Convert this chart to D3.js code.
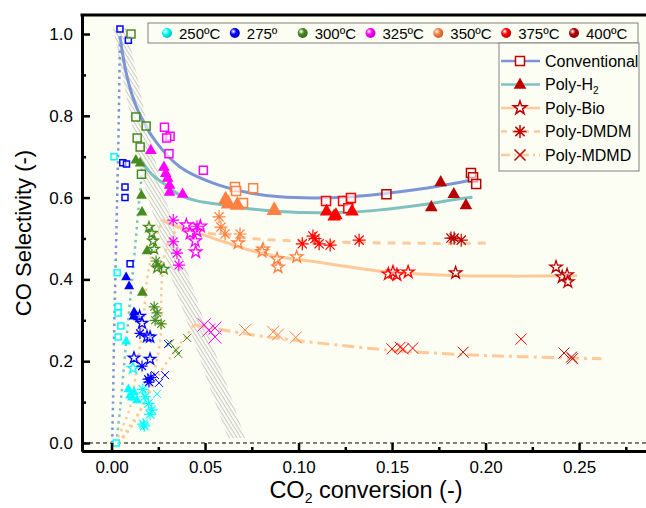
<!DOCTYPE html>
<html>
<head>
<meta charset="utf-8">
<script src="https://cdn.jsdelivr.net/npm/d3@7"></script>
<style>
  body { margin: 0; background: #fff; }
  text { font-family: "Liberation Sans", Arial, sans-serif; }
</style>
</head>
<body>
<div id="chart-area"></div>
<script>
// temperatures and legend labels
const temps = [250, 275, 300, 325, 350, 375, 400];
const tempLabels = ['250ºC', '275º', '300ºC', '325ºC', '350ºC', '375ºC', '400ºC'];
const seriesLabels = ['Conventional', 'Poly-H', 'Poly-Bio', 'Poly-DMDM', 'Poly-MDMD'];
const xTicks = [0, 0.05, 0.10, 0.15, 0.20, 0.25];
const xMinorTicks = [0.025, 0.075, 0.125, 0.175, 0.225, 0.275];
const yTicks = [0, 0.2, 0.4, 0.6, 0.8, 1.0];
const yMinorTicks = [0.1, 0.3, 0.5, 0.7, 0.9];

// [temperature, CO2 conversion, CO selectivity]
const conventional = [
  [250, 0.0025, 0.0], [250, 0.0013, 0.70], [250, 0.003, 0.416], [250, 0.0035, 0.333],
  [250, 0.0035, 0.318], [250, 0.005, 0.286], [250, 0.0035, 0.259],
  [275, 0.0045, 1.012], [275, 0.009, 0.985], [275, 0.006, 0.685], [275, 0.008, 0.682],
  [275, 0.0072, 0.626], [275, 0.0072, 0.60], [275, 0.0099, 0.438],
  [300, 0.0104, 1.0], [300, 0.013, 0.797], [300, 0.0185, 0.775], [300, 0.0137, 0.746],
  [300, 0.0153, 0.724], [300, 0.016, 0.657],
  [325, 0.0283, 0.772], [325, 0.0313, 0.75], [325, 0.0295, 0.746], [325, 0.0307, 0.707],
  [325, 0.0491, 0.667],
  [350, 0.066, 0.626], [350, 0.0666, 0.616], [350, 0.0757, 0.623], [350, 0.0703, 0.587],
  [375, 0.1147, 0.592], [375, 0.1238, 0.592], [375, 0.128, 0.599], [375, 0.1266, 0.574],
  [400, 0.147, 0.608], [400, 0.1922, 0.66], [400, 0.1933, 0.65], [400, 0.195, 0.633]
];
const polyH2 = [
  [250, 0.0078, 0.249], [250, 0.009, 0.132], [250, 0.0099, 0.117], [250, 0.011, 0.112],
  [250, 0.0136, 0.105], [250, 0.012, 0.125],
  [275, 0.0078, 0.406], [275, 0.0094, 0.384], [275, 0.012, 0.32], [275, 0.0126, 0.316],
  [275, 0.014, 0.308], [275, 0.0118, 0.31],
  [300, 0.013, 0.692], [300, 0.0153, 0.685], [300, 0.016, 0.606], [300, 0.0163, 0.565],
  [300, 0.019, 0.47], [300, 0.0165, 0.369],
  [325, 0.021, 0.716], [325, 0.028, 0.675], [325, 0.029, 0.66], [325, 0.03, 0.648],
  [325, 0.031, 0.631], [325, 0.031, 0.614], [325, 0.038, 0.609],
  [350, 0.061, 0.596], [350, 0.0625, 0.586], [350, 0.0673, 0.583], [350, 0.087, 0.57],
  [375, 0.115, 0.567], [375, 0.119, 0.555], [375, 0.12, 0.558], [375, 0.1286, 0.567],
  [400, 0.176, 0.638], [400, 0.183, 0.609], [400, 0.171, 0.577], [400, 0.1895, 0.582]
];
const polyBio = [
  [250, 0.0115, 0.183],
  [275, 0.015, 0.31], [275, 0.0163, 0.293], [275, 0.019, 0.26], [275, 0.0206, 0.259],
  [275, 0.012, 0.208], [275, 0.0206, 0.205],
  [300, 0.02, 0.528], [300, 0.0216, 0.513], [300, 0.0222, 0.494], [300, 0.0228, 0.474],
  [300, 0.028, 0.425], [300, 0.0243, 0.428],
  [325, 0.04, 0.533], [325, 0.042, 0.513], [325, 0.0457, 0.518], [325, 0.0447, 0.494],
  [325, 0.045, 0.467], [325, 0.0475, 0.53],
  [350, 0.0677, 0.489], [350, 0.081, 0.474], [350, 0.0805, 0.468], [350, 0.0885, 0.45],
  [350, 0.089, 0.43], [350, 0.099, 0.455],
  [375, 0.148, 0.413], [375, 0.1526, 0.411], [375, 0.1586, 0.418], [375, 0.1505, 0.418],
  [400, 0.184, 0.416], [400, 0.2377, 0.43], [400, 0.241, 0.406], [400, 0.2436, 0.411],
  [400, 0.244, 0.394]
];
const polyDMDM = [
  [250, 0.0167, 0.131], [250, 0.0179, 0.113], [250, 0.0197, 0.097], [250, 0.0206, 0.07],
  [250, 0.017, 0.046], [250, 0.0175, 0.042], [250, 0.0215, 0.081],
  [275, 0.0152, 0.268], [275, 0.0163, 0.188], [275, 0.0195, 0.156], [275, 0.02, 0.149],
  [275, 0.021, 0.16],
  [300, 0.0238, 0.445], [300, 0.0249, 0.435], [300, 0.0228, 0.333], [300, 0.0243, 0.318],
  [300, 0.0233, 0.30], [300, 0.0265, 0.291],
  [325, 0.033, 0.545], [325, 0.033, 0.492], [325, 0.035, 0.464], [325, 0.036, 0.435],
  [325, 0.0457, 0.53],
  [350, 0.0575, 0.553], [350, 0.0585, 0.528], [350, 0.0607, 0.511], [350, 0.0687, 0.511],
  [375, 0.102, 0.487], [375, 0.1077, 0.506], [375, 0.1088, 0.5], [375, 0.111, 0.487],
  [375, 0.1169, 0.484], [375, 0.1324, 0.496],
  [400, 0.1815, 0.501], [400, 0.187, 0.496], [400, 0.1832, 0.501]
];
const polyMDMD = [
  [250, 0.0243, 0.12],
  [275, 0.0302, 0.242], [275, 0.0233, 0.166], [275, 0.0286, 0.166], [275, 0.0254, 0.147],
  [300, 0.0313, 0.244], [300, 0.0345, 0.227], [300, 0.0356, 0.218], [300, 0.0404, 0.257],
  [325, 0.0495, 0.289], [325, 0.052, 0.276], [325, 0.0553, 0.281], [325, 0.0553, 0.259],
  [350, 0.0714, 0.276], [350, 0.0864, 0.272], [350, 0.089, 0.265], [350, 0.0985, 0.258],
  [375, 0.15, 0.23], [375, 0.1543, 0.234], [375, 0.156, 0.23], [375, 0.161, 0.232],
  [375, 0.219, 0.254],
  [400, 0.188, 0.222], [400, 0.242, 0.22], [400, 0.246, 0.21], [400, 0.2465, 0.206]
];

// trend lines, [conversion, selectivity]
const fitConventional = [[0.0045, 0.995], [0.0083, 0.895], [0.014, 0.814], [0.0243, 0.733],
  [0.0366, 0.675], [0.054, 0.636], [0.0722, 0.613], [0.09, 0.602], [0.108, 0.599],
  [0.125, 0.601], [0.144, 0.609], [0.165, 0.621], [0.186, 0.637], [0.193, 0.643]];
const lowConventional = [[0.0003, 0.0], [0.0008, 0.1], [0.0013, 0.25], [0.002, 0.4],
  [0.003, 0.6], [0.0037, 0.75], [0.0045, 0.995]];
const fitH2 = [[0.0163, 0.687], [0.022, 0.655], [0.0275, 0.636], [0.0366, 0.606],
  [0.0457, 0.592], [0.06, 0.582], [0.075, 0.572], [0.09, 0.566], [0.1115, 0.563],
  [0.13, 0.565], [0.1436, 0.57], [0.165, 0.582], [0.186, 0.597], [0.193, 0.601]];
const lowH2 = [[0.0025, 0.0], [0.0045, 0.08], [0.0065, 0.18], [0.0085, 0.28], [0.011, 0.40],
  [0.013, 0.5], [0.0145, 0.58], [0.016, 0.65], [0.0163, 0.687]];
const fitBio = [[0.027, 0.545], [0.036, 0.527], [0.047, 0.512], [0.06, 0.492], [0.075, 0.47],
  [0.09, 0.455], [0.108, 0.444], [0.125, 0.432], [0.144, 0.42], [0.165, 0.413],
  [0.186, 0.409], [0.215, 0.408], [0.249, 0.409]];
const lowBio = [[0.002, 0.0], [0.006, 0.04], [0.0099, 0.088], [0.014, 0.2], [0.017, 0.3],
  [0.019, 0.4], [0.022, 0.47], [0.027, 0.545]];
const fitDMDM = [[0.036, 0.53], [0.05, 0.515], [0.065, 0.505], [0.08, 0.498], [0.1, 0.494],
  [0.12, 0.491], [0.15, 0.489], [0.185, 0.488], [0.2024, 0.489]];
const lowDMDM = [[0.004, 0.0], [0.012, 0.05], [0.02, 0.13], [0.026, 0.25], [0.0268, 0.39],
  [0.0295, 0.48], [0.036, 0.53]];
const fitMDMD = [[0.044, 0.289], [0.055, 0.28], [0.068, 0.27], [0.079, 0.262], [0.1, 0.25],
  [0.12, 0.24], [0.146, 0.228], [0.188, 0.216], [0.22, 0.211], [0.262, 0.206]];
const lowMDMD = [[0.004, 0.0], [0.008, 0.03], [0.014, 0.07], [0.02, 0.12], [0.0268, 0.178],
  [0.034, 0.225], [0.0402, 0.264], [0.044, 0.289]];

// hatched band (edges)
const hatchLeft = [[0.0008, 1.015], [0.0099, 0.802], [0.0168, 0.643], [0.0275, 0.479],
  [0.0324, 0.399], [0.042, 0.276], [0.0511, 0.154], [0.0623, 0.012]];
const hatchRight = [[0.0083, 1.015], [0.0179, 0.802], [0.0259, 0.643], [0.0366, 0.479],
  [0.042, 0.399], [0.0511, 0.276], [0.0607, 0.154], [0.0714, 0.012]];

// ---- styles ----
const tempColors = ['#00ffff', '#0000ff', '#4a8a22', '#ff00ff', '#ff8040', '#ff0000', '#b80000'];
const color = d3.scaleOrdinal().domain(temps).range(tempColors);
const markerSize = {
  square: [3, 3, 4, 4, 4.5, 4.5, 4.5],
  triangle: [5.5, 5.5, 6, 6.5, 8.5, 7.5, 7],
  star: [6, 6, 5.5, 6.5, 6.5, 6.5, 6.5],
  asterisk: [6, 5.5, 5.5, 6, 6.5, 6.5, 6.5],
  cross: [4, 4, 4, 6.5, 6, 5.5, 5.5]
};
const markerPath = {
  square: r => `M${-r},${-r}h${2 * r}v${2 * r}h${-2 * r}Z`,
  triangle: r => `M0,${-r}L${r * 0.9},${r * 0.6}L${-r * 0.9},${r * 0.6}Z`,
  star: r => d3.symbol(d3.symbolStar, r * r / 0.8908)(),
  asterisk: r => {
    const d = r * 0.7071;
    return `M0,${-r}V${r}M${-r},0H${r}M${-d},${-d}L${d},${d}M${-d},${d}L${d},${-d}`;
  },
  cross: r => `M${-r},${-r}L${r},${r}M${-r},${r}L${r},${-r}`
};

const width = 646;
const height = 508;

const x = d3.scaleLinear().domain([-0.0158, 0.2858]).range([82, 646]);
const y = d3.scaleLinear().domain([-0.0196, 1.0465]).range([451, 15]);

const svg = d3.select('#chart-area').append('svg')
  .attr('width', width)
  .attr('height', height);

const defs = svg.append('defs');
defs.append('clipPath').attr('id', 'clip')
  .append('rect')
    .attr('x', 82).attr('y', 15).attr('width', 564).attr('height', 436);

const pat = defs.append('pattern')
  .attr('id', 'hatch')
  .attr('patternUnits', 'userSpaceOnUse')
  .attr('width', 3.2).attr('height', 10)
  .attr('patternTransform', 'rotate(-32)');
pat.append('line')
  .attr('x1', 1).attr('y1', 0).attr('x2', 1).attr('y2', 10)
  .attr('stroke', '#b0b0b0').attr('stroke-width', 0.8);

tempColors.forEach((c, i) => {
  const g = defs.append('radialGradient')
    .attr('id', 'ball' + i)
    .attr('cx', '35%').attr('cy', '35%').attr('r', '65%');
  g.append('stop').attr('offset', '0%').attr('stop-color', '#fff');
  g.append('stop').attr('offset', '45%').attr('stop-color', c);
  g.append('stop').attr('offset', '100%').attr('stop-color', d3.color(c).darker(0.8));
});

// plot background
svg.append('rect')
  .attr('x', 82).attr('y', 15).attr('width', 564).attr('height', 436)
  .attr('fill', '#fcfef3');

const plot = svg.append('g').attr('clip-path', 'url(#clip)');

// hatched band
const band = hatchLeft.concat(hatchRight.slice().reverse());
plot.append('path')
  .attr('d', d3.line().x(d => x(d[0])).y(d => y(d[1]))(band) + 'Z')
  .attr('fill', 'url(#hatch)');

// zero line
plot.append('line')
  .attr('x1', 82).attr('x2', 646)
  .attr('y1', y(0)).attr('y2', y(0))
  .attr('stroke', '#000').attr('stroke-width', 1)
  .attr('stroke-dasharray', '4,3');

// trend lines
const line = d3.line()
  .x(d => x(d[0]))
  .y(d => y(d[1]))
  .curve(d3.curveCatmullRom);

const fits = [
  { data: lowConventional, stroke: '#7d95d6', dash: '2.5,4', w: 2.5 },
  { data: lowH2, stroke: '#80c0c0', dash: '2.5,4', w: 2.5 },
  { data: lowBio, stroke: '#ffc99a', dash: '2.5,4', w: 2.5 },
  { data: lowDMDM, stroke: '#ffc99a', dash: '2.5,4', w: 2.5 },
  { data: lowMDMD, stroke: '#ffc99a', dash: '2.5,4', w: 2.5 },
  { data: fitConventional, stroke: '#7d95d6', dash: null, w: 3 },
  { data: fitH2, stroke: '#80c0c0', dash: null, w: 3 },
  { data: fitBio, stroke: '#ffc99a', dash: null, w: 3 },
  { data: fitDMDM, stroke: '#ffc99a', dash: '8,7', w: 3 },
  { data: fitMDMD, stroke: '#ffc99a', dash: '12,5,3,5', w: 3 }
];
plot.selectAll('path.fit')
  .data(fits)
  .enter().append('path')
    .attr('class', 'fit')
    .attr('d', d => line(d.data))
    .attr('fill', 'none')
    .attr('stroke', d => d.stroke)
    .attr('stroke-width', d => d.w)
    .attr('stroke-dasharray', d => d.dash);

// markers
const series = [
  { data: conventional, shape: 'square', filled: false, sw: 1.5 },
  { data: polyH2, shape: 'triangle', filled: true, sw: 0 },
  { data: polyBio, shape: 'star', filled: false, sw: 1.3 },
  { data: polyDMDM, shape: 'asterisk', filled: false, sw: 1.2 },
  { data: polyMDMD, shape: 'cross', filled: false, sw: 1 }
];
series.forEach(s => {
  plot.append('g').selectAll('path')
    .data(s.data)
    .enter().append('path')
      .attr('transform', d => `translate(${x(d[1])},${y(d[2])})`)
      .attr('d', d => markerPath[s.shape](markerSize[s.shape][temps.indexOf(d[0])]))
      .attr('fill', d => s.filled ? color(d[0]) : (s.shape === 'square' || s.shape === 'star' ? '#fff' : 'none'))
      .attr('fill-opacity', s.filled ? 1 : 0.6)
      .attr('stroke', d => color(d[0]))
      .attr('stroke-width', s.sw);
});

// axes
svg.append('g')
  .attr('transform', 'translate(82,0)')
  .call(d3.axisLeft(y).tickValues(yTicks).tickFormat(d3.format('.1f'))
    .tickSize(-8).tickSizeOuter(0).tickPadding(9));
svg.append('g')
  .attr('transform', 'translate(82,0)')
  .call(d3.axisLeft(y).tickValues(yMinorTicks).tickFormat('').tickSize(-4).tickSizeOuter(0));

svg.append('g')
  .attr('transform', 'translate(0,451)')
  .call(d3.axisBottom(x).tickValues(xTicks).tickFormat(d3.format('.2f'))
    .tickSize(-8).tickSizeOuter(0).tickPadding(10));
svg.append('g')
  .attr('transform', 'translate(0,451)')
  .call(d3.axisBottom(x).tickValues(xMinorTicks).tickFormat('').tickSize(-4).tickSizeOuter(0));

svg.selectAll('.domain').attr('stroke', '#000').attr('stroke-width', 3);
svg.selectAll('.tick line').attr('stroke', '#000').attr('stroke-width', 2.5);
svg.selectAll('.tick text')
  .attr('font-size', 17)
  .attr('font-family', '"Liberation Sans", Arial, sans-serif')
  .attr('fill', '#000');

// top border
svg.append('line')
  .attr('x1', 80.5).attr('x2', 646)
  .attr('y1', 15).attr('y2', 15)
  .attr('stroke', '#000').attr('stroke-width', 3);

// axis titles
svg.append('text')
  .attr('transform', 'translate(31,233) rotate(-90)')
  .attr('text-anchor', 'middle')
  .attr('font-size', 22)
  .text('CO Selectivity (-)');

const xt = svg.append('text')
  .attr('x', 366).attr('y', 498)
  .attr('text-anchor', 'middle')
  .attr('font-size', 23.5);
xt.append('tspan').text('CO');
xt.append('tspan').attr('font-size', 14).attr('dy', 5).text('2');
xt.append('tspan').attr('dy', -5).text(' conversion (-)');

// temperature legend
const legT = svg.append('g');
legT.append('rect')
  .attr('x', 148).attr('y', 23).attr('width', 490).attr('height', 20)
  .attr('fill', '#fcfef3').attr('stroke', '#808080').attr('stroke-width', 1);
const tempX = d3.scalePoint().domain(temps).range([167, 574]);
temps.forEach((t, i) => {
  legT.append('circle')
    .attr('cx', tempX(t)).attr('cy', 33).attr('r', 5)
    .attr('fill', `url(#ball${i})`);
  legT.append('text')
    .attr('x', tempX(t) + 12).attr('y', 38.5)
    .attr('font-size', 15)
    .text(tempLabels[i]);
});

// series legend
const legS = svg.append('g');
legS.append('rect')
  .attr('x', 499).attr('y', 43).attr('width', 140).attr('height', 128)
  .attr('fill', '#fcfef3').attr('stroke', '#808080').attr('stroke-width', 1);
const legRows = d3.scalePoint().domain(seriesLabels).range([61, 155]);
const legendItems = [
  { stroke: '#7d95d6', dash: null, shape: 'square', r: 4.5, filled: false },
  { stroke: '#80c0c0', dash: null, shape: 'triangle', r: 7, filled: true },
  { stroke: '#ffc99a', dash: null, shape: 'star', r: 7, filled: false },
  { stroke: '#ffc99a', dash: '6,5', shape: 'asterisk', r: 6.5, filled: false },
  { stroke: '#ffc99a', dash: '9,4,2,4', shape: 'cross', r: 5.5, filled: false }
];
seriesLabels.forEach((name, i) => {
  const it = legendItems[i];
  const yy = legRows(name);
  legS.append('line')
    .attr('x1', 501).attr('x2', 540).attr('y1', yy).attr('y2', yy)
    .attr('stroke', it.stroke).attr('stroke-width', 2.5)
    .attr('stroke-dasharray', it.dash);
  legS.append('path')
    .attr('transform', `translate(520,${yy})`)
    .attr('d', markerPath[it.shape](it.r))
    .attr('fill', it.filled ? '#c00000' : (it.shape === 'square' || it.shape === 'star' ? '#fff' : 'none'))
    .attr('stroke', '#c00000')
    .attr('stroke-width', it.filled ? 0 : 1.5);
  const tx = legS.append('text')
    .attr('x', 545).attr('y', yy + 5.5)
    .attr('font-family', 'Lato, "Open Sans", sans-serif')
    .attr('font-size', 16)
    .text(name);
  if (name === 'Poly-H') {
    tx.append('tspan').attr('font-size', 10).attr('dy', 4).text('2');
  }
});
</script>
</body>
</html>
